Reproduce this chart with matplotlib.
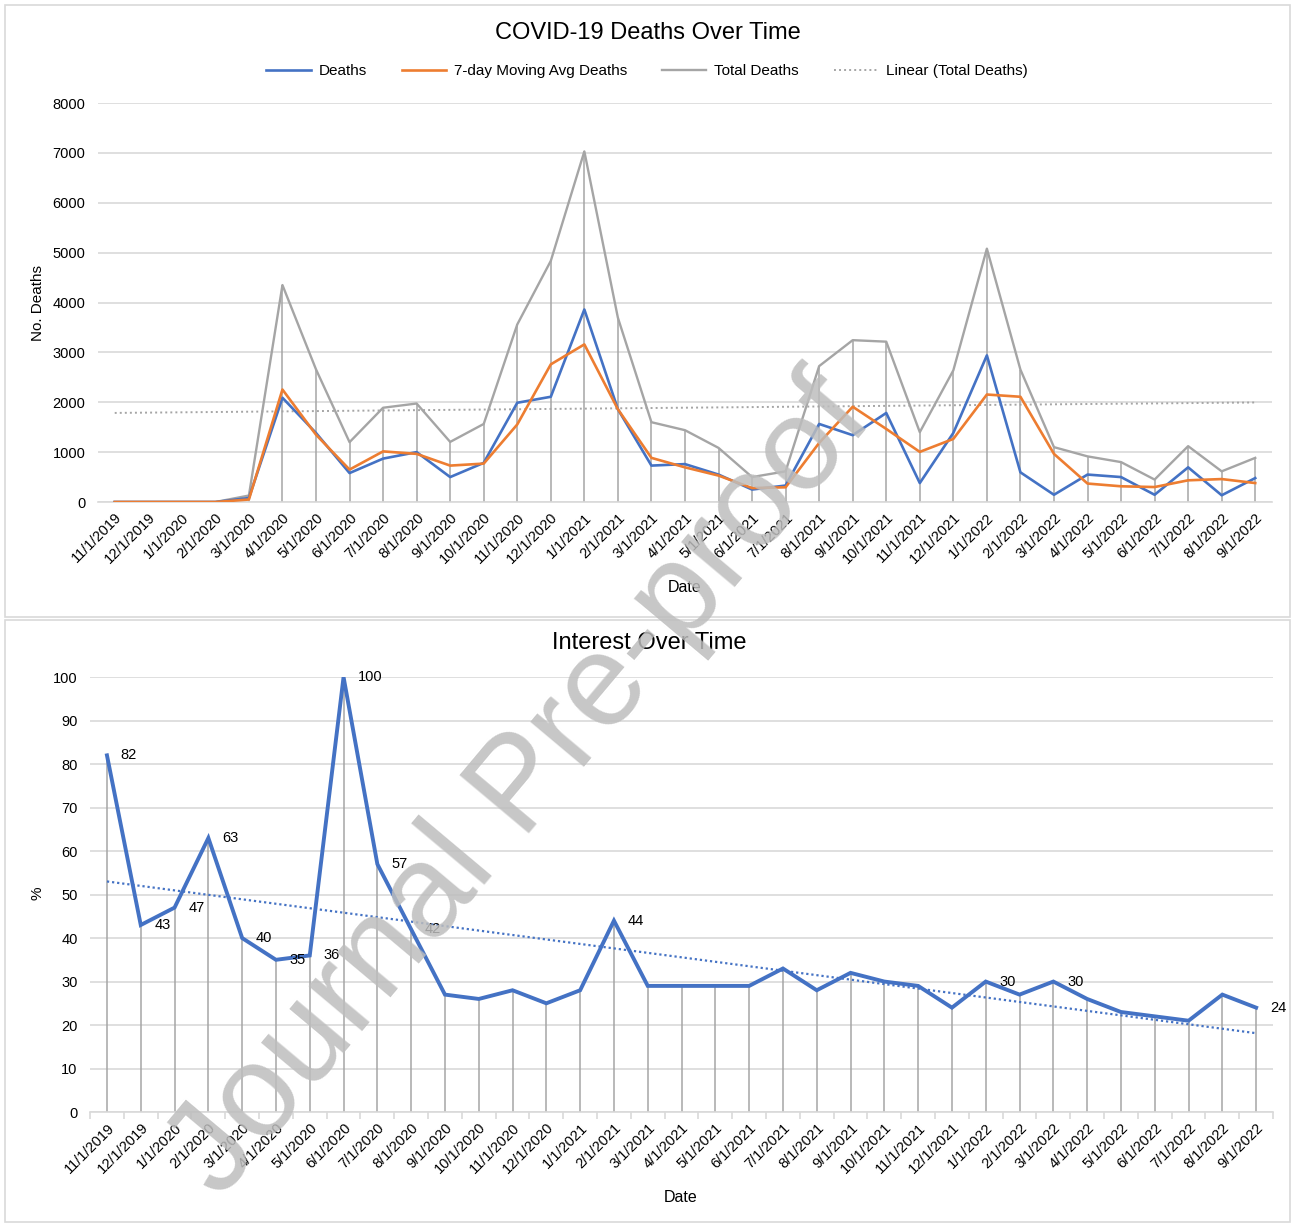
import numpy as np
import matplotlib
matplotlib.use('Agg')
import matplotlib.pyplot as plt
from matplotlib.patches import Rectangle

plt.rcParams['font.family'] = ['Liberation Sans', 'DejaVu Sans']

months = ['11/1/2019', '12/1/2019', '1/1/2020', '2/1/2020', '3/1/2020', '4/1/2020',
          '5/1/2020', '6/1/2020', '7/1/2020', '8/1/2020', '9/1/2020', '10/1/2020',
          '11/1/2020', '12/1/2020', '1/1/2021', '2/1/2021', '3/1/2021', '4/1/2021',
          '5/1/2021', '6/1/2021', '7/1/2021', '8/1/2021', '9/1/2021', '10/1/2021',
          '11/1/2021', '12/1/2021', '1/1/2022', '2/1/2022', '3/1/2022', '4/1/2022',
          '5/1/2022', '6/1/2022', '7/1/2022', '8/1/2022', '9/1/2022']

deaths = [0, 0, 0, 0, 80, 2090, 1385, 580, 870, 1000, 500, 785, 1990, 2110, 3860, 1860,
          730, 760, 550, 250, 330, 1565, 1340, 1785, 380, 1385, 2940, 595, 145, 550,
          500, 145, 695, 135, 480]
moving_avg = [0, 0, 0, 0, 50, 2255, 1350, 650, 1015, 965, 730, 770, 1555, 2760, 3160, 1860,
              885, 695, 530, 280, 295, 1185, 1910, 1465, 1005, 1265, 2155, 2110, 965, 370,
              315, 300, 435, 460, 380]
total_deaths = [0, 0, 0, 0, 130, 4350, 2660, 1200, 1890, 1975, 1205, 1565, 3560, 4835, 7030, 3695,
                1600, 1440, 1085, 500, 615, 2725, 3245, 3215, 1400, 2640, 5080, 2655, 1100, 915,
                800, 450, 1120, 615, 885]

interest = [82, 43, 47, 63, 40, 35, 36, 100, 57, 42, 27, 26, 28, 25, 28, 44,
            29, 29, 29, 29, 33, 28, 32, 30, 29, 24, 30, 27, 30, 26, 23, 22, 21, 27, 24]
labeled = [0, 1, 2, 3, 4, 5, 6, 7, 8, 9, 15, 26, 28, 34]

BLUE = '#4472C4'
ORANGE = '#ED7D31'
GRAY = '#A5A5A5'
GRID = '#D9D9D9'

fig = plt.figure(figsize=(12.94, 12.25), dpi=100)

# panel frames
fig.patches.append(Rectangle((5/1294, 1-617/1225), 1285/1294, 612/1225, transform=fig.transFigure,
                             fill=False, ec=GRID, lw=1.2))
fig.patches.append(Rectangle((5/1294, 1-1222/1225), 1285/1294, 602/1225, transform=fig.transFigure,
                             fill=False, ec=GRID, lw=1.2))

x = np.arange(len(months))


def style_axes(ax, ymax, step):
    ax.set_xlim(-0.5, len(months) - 0.5)
    ax.set_ylim(0, ymax)
    ax.set_yticks(np.arange(0, ymax + 1, step))
    ax.set_xticks(x)
    ax.set_xticklabels(months, rotation=45, ha='right', rotation_mode='anchor')
    ax.grid(axis='y', color=GRID, lw=1.2)
    ax.set_axisbelow(True)
    for s in ['top', 'right', 'left']:
        ax.spines[s].set_visible(False)
    ax.spines['bottom'].set_color(GRID)
    ax.spines['bottom'].set_linewidth(1.2)
    ax.tick_params(axis='both', length=0, labelsize=10.5, colors='black')
    ax.tick_params(axis='y', pad=9)
    ax.tick_params(axis='x', pad=6)


# top chart
ax1 = fig.add_axes([0.0757, 0.5902, 0.9073, 0.3257])
style_axes(ax1, 8000, 1000)
ax1.vlines(x, 0, total_deaths, color=GRAY, lw=1.1, zorder=2)
ax1.plot(x, deaths, color=BLUE, lw=1.9, label='Deaths', zorder=4)
ax1.plot(x, moving_avg, color=ORANGE, lw=1.9, label='7-day Moving Avg Deaths', zorder=4)
ax1.plot(x, total_deaths, color=GRAY, lw=1.7, label='Total Deaths', zorder=3)
k, b = np.polyfit(x, total_deaths, 1)
ax1.plot(x, k * x + b, color=GRAY, lw=1.4, ls=(0, (1, 1.6)), label='Linear (Total Deaths)', zorder=3)

fig.legend(*ax1.get_legend_handles_labels(), loc='center', bbox_to_anchor=(0.5, 1 - 71/1225),
           ncol=4, frameon=False, fontsize=11, handlelength=2.9, columnspacing=2.3,
           handletextpad=0.5)

fig.text(648/1294, 1 - 33/1225, 'COVID-19 Deaths Over Time', ha='center', va='center', fontsize=17)
fig.text(38/1294, 1 - 303/1225, 'No. Deaths', rotation=90, ha='center', va='center', fontsize=11)
fig.text(685/1294, 1 - 587/1225, 'Date', ha='center', va='center', fontsize=11.5)

# bottom chart
ax2 = fig.add_axes([0.0696, 0.0922, 0.9142, 0.3551])
style_axes(ax2, 100, 10)
ax2.set_xticks(np.arange(-0.5, len(months), 1), minor=True)
ax2.tick_params(axis='x', which='minor', length=5, color=GRID, width=1.2)
ax2.vlines(x, 0, interest, color=GRAY, lw=1.1, zorder=2)
ax2.plot(x, interest, color=BLUE, lw=2.8, zorder=4, solid_joinstyle='miter')
k2, b2 = np.polyfit(x, interest, 1)
ax2.plot(x, k2 * x + b2, color=BLUE, lw=1.6, ls=(0, (1, 1.3)), zorder=3)
for i in labeled:
    ax2.annotate(str(interest[i]), (x[i], interest[i]), xytext=(10, 0), textcoords='offset points',
                 ha='left', va='center', fontsize=10.5, zorder=5)

fig.text(649/1294, 1 - 643/1225, 'Interest Over Time', ha='center', va='center', fontsize=17)
fig.text(38/1294, 1 - 893/1225, '%', rotation=90, ha='center', va='center', fontsize=11)
fig.text(681/1294, 1 - 1197/1225, 'Date', ha='center', va='center', fontsize=11.5)

# watermark
fig.text(522/1294, 1 - 788/1225, 'Journal Pre-proof', rotation=50, ha='center', va='center',
         fontsize=95, color='#bdbdbd', alpha=0.85, zorder=10)

plt.savefig('out.png', dpi=100)
